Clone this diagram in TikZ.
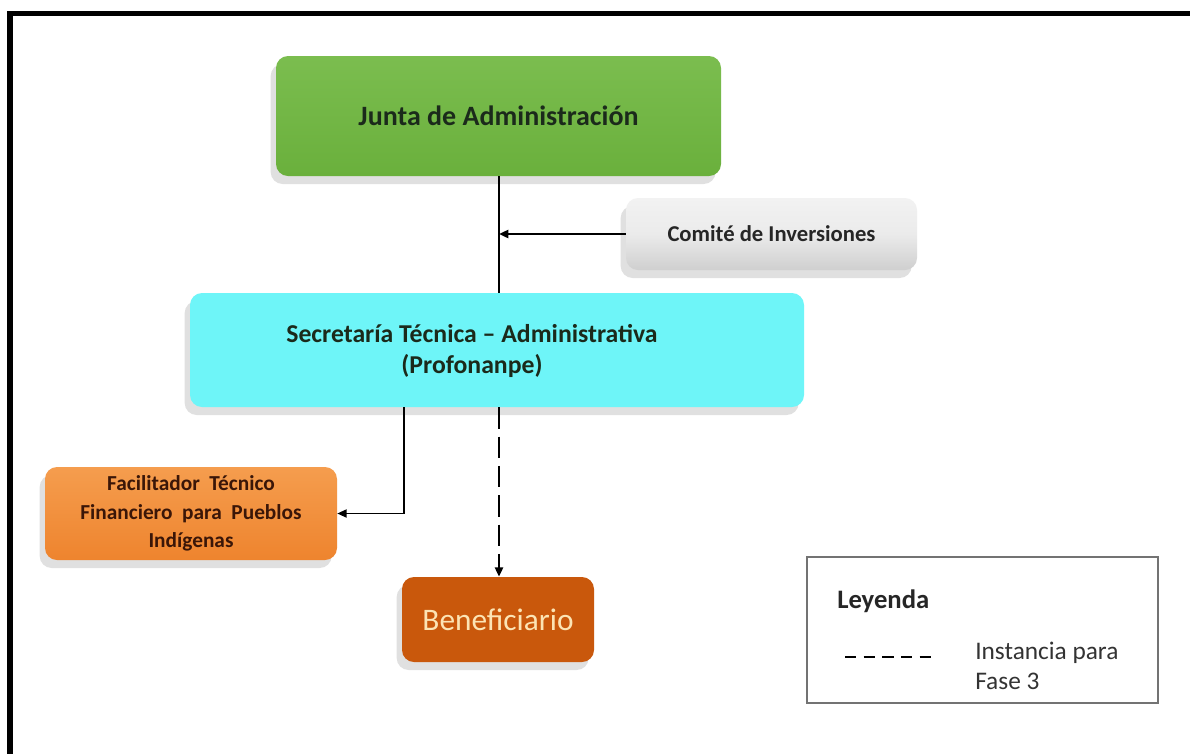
\documentclass[tikz,border=0pt]{standalone}
\usepackage{fontspec}
\setmainfont{Carlito}
\usetikzlibrary{shadows,arrows.meta}
\definecolor{jgreen}{HTML}{6AB03C}
\definecolor{jgreenT}{HTML}{7BBD4F}
\definecolor{cgray}{HTML}{CFCFCF}
\definecolor{cgrayT}{HTML}{F2F2F2}
\definecolor{scyan}{HTML}{6EF5F8}
\definecolor{forange}{HTML}{EE842E}
\definecolor{forangeT}{HTML}{F59D4E}
\definecolor{borange}{HTML}{C9580C}
\definecolor{btext}{HTML}{FCE4B4}
\definecolor{ftext}{HTML}{3A1608}
\definecolor{dtext}{HTML}{1B2A1B}
\tikzset{
  orgbox/.style={rounded corners=9pt, inner sep=0pt, align=center,
    drop shadow={shadow xshift=-4pt, shadow yshift=-6pt, opacity=.2, fill=black!60}},
  conn/.style={line width=1.8pt, -{Triangle[length=7pt,width=6pt]}},
  plainconn/.style={line width=1.8pt},
}
\begin{document}
\begin{tikzpicture}[x=0.75pt,y=-0.75pt]
\useasboundingbox (0,0) rectangle (1190,754);
\fill[white] (0,0) rectangle (1190,754);
% outer frame (left and top visible)
\draw[line width=3.8pt] (10,754) -- (10,13.5) -- (1190,13.5);

% nodes
\node[orgbox, minimum width=445*0.75pt, minimum height=120*0.75pt,
  top color=jgreenT, bottom color=jgreen, font=\bfseries\fontsize{21}{24}\selectfont, text=dtext]
  (junta) at (498.5,116) {Junta de Administración};
\node[orgbox, minimum width=291*0.75pt, minimum height=72*0.75pt,
  top color=cgrayT, bottom color=cgray, middle color=cgrayT!80!cgray, font=\bfseries\fontsize{17}{20}\selectfont, text=black!85]
  (comite) at (771.5,234) {Comité de Inversiones};
\node[orgbox, minimum width=614*0.75pt, minimum height=114*0.75pt,
  fill=scyan] (secre) at (497,350) {};
\node[font=\bfseries\fontsize{19.3}{23.5}\selectfont, text=dtext, align=center, inner sep=0pt]
  (secret) at (472,351) {Secretaría Técnica – Administrativa\\(Profonanpe)};
\node[orgbox, minimum width=292*0.75pt, minimum height=93*0.75pt,
  top color=forangeT, bottom color=forange, font=\bfseries\fontsize{16}{21.5}\selectfont, text=ftext]
  (facil) at (191,513.5) {Facilitador\ \ Técnico\\Financiero\ \ para\ \ Pueblos\\Indígenas};
\node[orgbox, minimum width=192*0.75pt, minimum height=85*0.75pt,
  fill=borange, font=\fontsize{23.5}{26}\selectfont, text=btext]
  (benef) at (498,619.5) {Beneficiario};

% connectors
\coordinate (jv) at (499,176);
\coordinate (cj) at (499,234);
\draw[plainconn] (junta.south -| jv) -- (secre.north -| jv);
\draw[conn] (comite.west) -- (cj);
\coordinate (sf) at (404,407);
\coordinate (sfc) at (404,513.5);
\draw[line width=1.3pt, -{Triangle[length=7pt,width=6pt]}] (sf) -- (sfc) -- (facil.east);
\draw[line width=2pt, dash pattern=on 16pt off 6pt, -{Triangle[length=7pt,width=6pt]}] (secre.south -| jv) -- (benef.north -| jv);

% legend
\node[draw=black!55, line width=0.8pt, minimum width=351*0.75pt, minimum height=146*0.75pt, inner sep=0pt]
  (leg) at (982.5,630) {};
\node[font=\bfseries\fontsize{20}{22}\selectfont, anchor=west, text=black!85, inner sep=0pt] (legt) at (837,601) {Leyenda};
\coordinate (ld1) at (845,657);
\coordinate (ld2) at (933,657);
\draw[line width=2.2pt, dash pattern=on 8.4pt off 5.6pt] (ld1) -- (ld2);
\node[font=\fontsize{19}{23}\selectfont, anchor=west, align=left, text=black!80, inner sep=0pt] (legd) at (975,666) {Instancia para\\Fase 3};
\end{tikzpicture}
\end{document}
